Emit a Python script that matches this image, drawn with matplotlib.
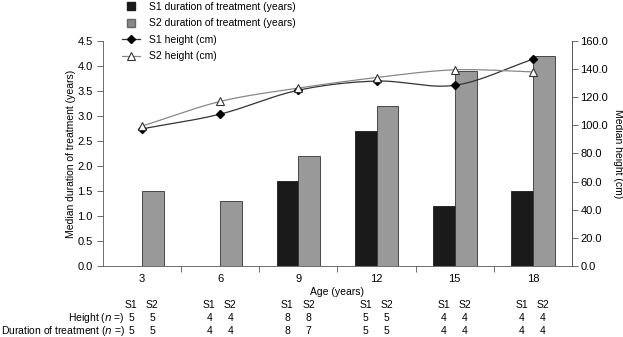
import numpy as np
import matplotlib.pyplot as plt
import matplotlib.transforms as mtransforms

plt.rcParams['font.family'] = ['Liberation Sans', 'DejaVu Sans']

# ── Data ─────────────────────────────────────────────────────────────────────
ages = ["3", "6", "9", "12", "15", "18"]
s1_duration = [0, 0, 1.7, 2.7, 1.2, 1.5]
s2_duration = [1.5, 1.3, 2.2, 3.2, 3.9, 4.2]
s1_height = [97.5, 108.0, 125.0, 131.5, 128.5, 147.0]
s2_height = [99.5, 117.0, 126.5, 134.0, 139.5, 138.0]
n_height_s1 = [5, 4, 8, 5, 4, 4]
n_height_s2 = [5, 4, 8, 5, 4, 4]
n_dur_s1 = [5, 4, 8, 5, 4, 4]
n_dur_s2 = [5, 4, 7, 5, 4, 4]


def smooth(xs, ys, steps=30):
    # Catmull-Rom curve through the points, like a spreadsheet "smoothed line"
    xs = np.asarray(xs, float)
    ys = np.asarray(ys, float)
    px = np.concatenate([[2 * xs[0] - xs[1]], xs, [2 * xs[-1] - xs[-2]]])
    py = np.concatenate([[2 * ys[0] - ys[1]], ys, [2 * ys[-1] - ys[-2]]])
    out_x, out_y = [], []
    t = np.linspace(0, 1, steps)
    for i in range(1, len(px) - 2):
        for p, out in ((px, out_x), (py, out_y)):
            p0, p1, p2, p3 = p[i - 1], p[i], p[i + 1], p[i + 2]
            out.extend(0.5 * ((2 * p1) + (-p0 + p2) * t
                              + (2 * p0 - 5 * p1 + 4 * p2 - p3) * t ** 2
                              + (-p0 + 3 * p1 - 3 * p2 + p3) * t ** 3))
    return np.array(out_x), np.array(out_y)


x = np.arange(len(ages))
w = 0.28
fs = 7.5

fig = plt.figure(figsize=(6.23, 3.37), dpi=100)
ax = fig.add_axes([0.1653, 0.2107, 0.7528, 0.6677])
ax2 = ax.twinx()

ax.bar(x - w / 2, s1_duration, w, color="#1a1a1a", edgecolor="#1a1a1a",
       linewidth=0.6)
ax.bar(x + w / 2, s2_duration, w, color="#999999", edgecolor="#333333",
       linewidth=0.6)

sx, sy = smooth(x, s1_height)
ax2.plot(sx, sy, color="#333333", lw=0.9)
sx, sy = smooth(x, s2_height)
ax2.plot(sx, sy, color="#888888", lw=0.9)
ax2.plot(x, s1_height, ls="None", marker="D", ms=4.5, mfc="black", mec="black")
ax2.plot(x, s2_height, ls="None", marker="^", ms=6, mfc="white",
         mec="#333333", mew=0.8)

ax.set_xlim(-0.5, 5.5)
ax.set_ylim(0, 4.5)
ax2.set_ylim(0, 160)
ax.set_yticks(np.arange(0, 4.51, 0.5))
ax.set_yticklabels([f"{v:.1f}" for v in np.arange(0, 4.51, 0.5)])
ax2.set_yticks(np.arange(0, 161, 20))
ax2.set_yticklabels([f"{v:.1f}" for v in np.arange(0, 161, 20)])
ax.set_xticks(x)
ax.set_xticklabels(ages)
ax.set_xticks(np.arange(0.5, 5.5, 1), minor=True)
ax.tick_params(axis="x", which="major", length=0, pad=6, labelsize=8)
ax.tick_params(axis="x", which="minor", length=4, width=0.6, color="#555555")
ax.tick_params(axis="y", length=4, width=0.6, labelsize=8, color="#555555")
ax2.tick_params(axis="y", length=4, width=0.6, labelsize=8, color="#555555", pad=2)

for a in (ax, ax2):
    a.spines["top"].set_visible(False)
    for s in ("left", "right", "bottom"):
        a.spines[s].set_linewidth(0.6)
        a.spines[s].set_color("#555555")
ax2.spines["left"].set_visible(False)
ax2.spines["bottom"].set_visible(False)

ax.set_xlabel("Age (years)", fontsize=fs, labelpad=2)
ax.set_ylabel("Median duration of treatment (years)", fontsize=fs, labelpad=1)
ax2.set_ylabel("Median height (cm)", fontsize=fs, rotation=270, labelpad=11)

# legend above the plot
handles = [plt.Line2D([], [], ls="None", marker="s", ms=6, mfc="#1a1a1a",
                      mec="#1a1a1a"),
           plt.Line2D([], [], ls="None", marker="s", ms=6, mfc="#888888",
                      mec="#666666"),
           plt.Line2D([], [], color="#333333", lw=0.9, marker="D", ms=4.5,
                      mfc="black", mec="black"),
           plt.Line2D([], [], color="#888888", lw=0.9, marker="^", ms=6,
                      mfc="white", mec="#333333", mew=0.8)]
labels = ["S1 duration of treatment (years)", "S2 duration of treatment (years)",
          "S1 height (cm)", "S2 height (cm)"]
fig.legend(handles, labels, loc="upper left", bbox_to_anchor=(0.18, 1.022),
           frameon=False, fontsize=fs, handlelength=1.8, handletextpad=0.8,
           labelspacing=0.62)

# sample size table under the x axis
trans = mtransforms.blended_transform_factory(ax.transData, fig.transFigure)
rows_y = [1 - 305 / 337, 1 - 318 / 337, 1 - 331 / 337]
fig.text(125 / 623, rows_y[1], "Height ($n$ =)", ha="right", va="center", fontsize=fs)
fig.text(125 / 623, rows_y[2], "Duration of treatment ($n$ =)", ha="right",
         va="center", fontsize=fs)
for i in range(len(ages)):
    for dx, head, nh, nd in ((-0.14, "S1", n_height_s1[i], n_dur_s1[i]),
                             (0.13, "S2", n_height_s2[i], n_dur_s2[i])):
        fig.text(x[i] + dx, rows_y[0], head, transform=trans, ha="center",
                 va="center", fontsize=fs)
        fig.text(x[i] + dx, rows_y[1], str(nh), transform=trans, ha="center",
                 va="center", fontsize=fs)
        fig.text(x[i] + dx, rows_y[2], str(nd), transform=trans, ha="center",
                 va="center", fontsize=fs)

fig.savefig("out.png", dpi=100)
